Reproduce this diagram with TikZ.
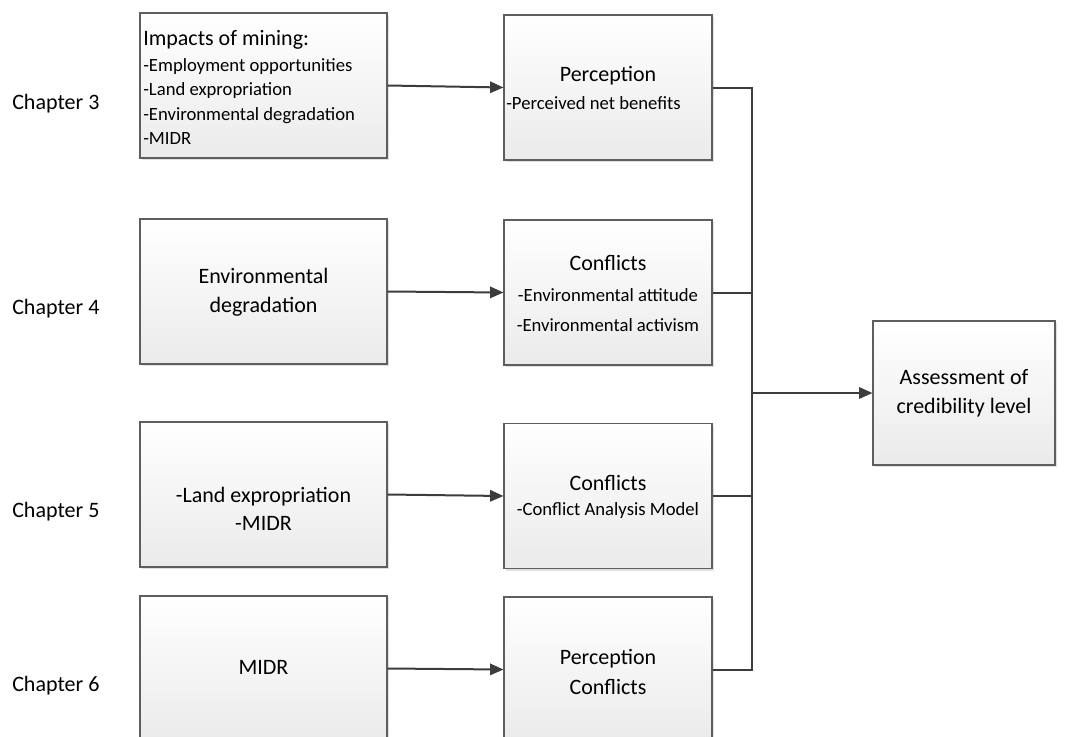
\documentclass[tikz,border=0pt]{standalone}
\usepackage{fontspec}
\setmainfont{Carlito}
\usetikzlibrary{arrows.meta,shadows}
\definecolor{edge}{HTML}{5E5E5E}
\definecolor{wire}{HTML}{3C3C3C}
\tikzset{
  box/.style={draw=edge, line width=0.8pt, rectangle, inner sep=0pt,
    top color=white, bottom color=black!8,
    drop shadow={shadow xshift=1.6pt, shadow yshift=-1.6pt, fill=black!12, opacity=1}},
  leftbox/.style={box, minimum width=185.25pt, minimum height=108.75pt},
  midbox/.style={box, minimum width=156pt, minimum height=108.75pt},
  big/.style={font=\fontsize{16.5}{20}\selectfont, inner sep=0pt},
  small/.style={font=\fontsize{14}{18.4}\selectfont, inner sep=0pt},
  chap/.style={font=\fontsize{16.5}{20}\selectfont, inner sep=0pt, anchor=west},
  link/.style={draw=wire, line width=1.5pt, -{Triangle[length=10pt,width=8.5pt]}},
  bus/.style={draw=wire, line width=1.5pt}
}
\begin{document}
\begin{tikzpicture}[x=0.75pt,y=-0.75pt]
\useasboundingbox (0,0) rectangle (1071,736);
\clip (0,0) rectangle (1071,736);

% chapter labels
\node[chap] (ch3) at (12,104) {Chapter 3};
\node[chap] (ch4) at (12,309) {Chapter 4};
\node[chap] (ch5) at (12,512) {Chapter 5};
\node[chap] (ch6) at (12,686) {Chapter 6};

% input boxes
\node[leftbox] (a1) at (263.5,85.5) {};
\node[leftbox] (a2) at (263.5,291.5) {};
\node[leftbox] (a3) at (263.5,494.5) {};
\node[leftbox] (a4) at (263.5,668.5) {};

% analysis boxes
\node[midbox] (b1) at (608,87.5) {};
\node[midbox] (b2) at (608,292.5) {};
\node[midbox] (b3) at (608,496) {};
\node[midbox] (b4) at (608,669.5) {};

% result box
\node[box, minimum width=136.5pt, minimum height=108pt] (c) at (964,393) {};

% texts of the input boxes
\node[small, anchor=west, align=left] (t1) at (143,87.5)
  {{\fontsize{16.5}{20}\selectfont Impacts of mining:}\\[1pt]
   -Employment opportunities\\ -Land expropriation\\
   -Environmental degradation\\ -MIDR};
\node[big, align=center] (t2) at (263.5,292) {Environmental\\[2pt] degradation};
\node[big, align=center] (t3) at (263.5,509) {-Land expropriation\\[1pt] -MIDR};
\node[big] (t4) at (263.5,667) {MIDR};

% texts of the analysis boxes
\node[big] (u1) at (608,76) {Perception};
\node[small, anchor=west] (u1b) at (506,103) {-Perceived net benefits};
\node[big] (u2) at (608,263) {Conflicts};
\node[small, align=center] (u2b) at (608,310) {-Environmental attitude\\[4pt] -Environmental activism};
\node[big] (u3) at (608,483) {Conflicts};
\node[small] (u3b) at (608,511) {-Conflict Analysis Model};
\node[big, align=center] (u4) at (608,672) {Perception\\[2pt] Conflicts};

% result text
\node[big, align=center] (v) at (964,393) {Assessment of\\[2pt] credibility level};

% connectors
\coordinate (j) at (752,393);
\draw[link] (a1.east) -- (b1.west);
\draw[link] (a2.east) -- (b2.west);
\draw[link] (a3.east) -- (b3.west);
\draw[link] (a4.east) -- (b4.west);
\draw[bus] (b1.east) -| (j);
\draw[bus] (b2.east) -| (j);
\draw[bus] (b3.east) -| (j);
\draw[bus] (b4.east) -| (j);
\draw[link] (j) -- (c.west);
\end{tikzpicture}
\end{document}
